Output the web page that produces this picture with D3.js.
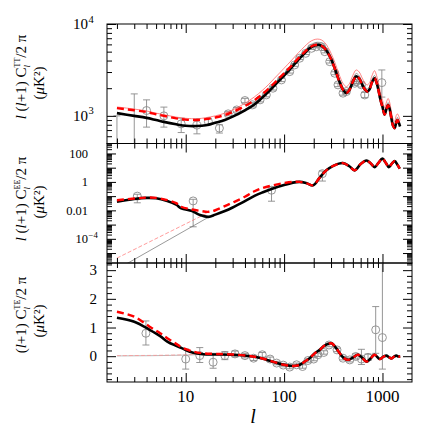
<!DOCTYPE html>
<html><head><meta charset="utf-8">
<script src="https://cdn.jsdelivr.net/npm/d3@7"></script>
<style>body{margin:0;background:#fff}svg{display:block}</style>
</head><body><svg id="c" width="436" height="436"></svg>
<script>
// ---------- DATA ----------
const lTT = [2,3,4,5,6,8,10,13,16,20,25,30,40,50,60,70,80,90,100,120,140,160,180,200,220,240,260,280,300,330,360,400,430,460,500,540,580,620,660,700,740,780,830,870,920,960,1000,1050,1100,1140,1180,1230,1280,1330,1380,1420,1470,1510];
const ttBlack = [1070,1000,950,900,860,810,780,775,790,840,900,980,1150,1330,1580,1850,2150,2450,2750,3400,4100,4750,5400,5800,5920,5800,5400,4800,4150,3200,2450,1900,1770,1900,2350,2700,2550,2200,1950,1840,1950,2300,2570,2300,1800,1450,1250,1030,1200,1310,1200,950,780,735,850,900,830,766];
const ttRed = [1213,1150,1100,1040,1000,940,910,900,920,960,1020,1100,1280,1480,1720,1990,2290,2600,2900,3550,4250,4900,5500,5850,5950,5800,5400,4800,4150,3200,2450,1900,1770,1900,2350,2700,2550,2200,1950,1840,1950,2300,2570,2300,1800,1450,1250,1030,1200,1310,1200,950,780,735,850,900,830,766];
const ttThinGray = [1070,1000,950,900,860,810,780,775,795,850,915,1000,1180,1380,1650,1950,2270,2600,2920,3620,4370,5060,5750,6180,6330,6200,5780,5140,4440,3420,2620,2030,1890,2030,2510,2890,2730,2350,2090,1970,2090,2460,2750,2460,1930,1550,1340,1100,1280,1400,1280,1020,835,785,910,960,890,820];
const ttThinRed = [1250,1185,1130,1070,1030,970,940,930,955,1000,1070,1160,1370,1610,1890,2210,2570,2930,3300,4060,4870,5630,6320,6730,6850,6700,6250,5550,4800,3750,2880,2230,2080,2230,2760,3160,3000,2600,2300,2170,2300,2720,3100,2750,2150,1730,1490,1230,1420,1550,1420,1120,920,870,1010,1050,980,890];
// TT measurements: [l, value, low, high]
const ttPoints = [[2,350,100,1000],[3,450,100,1734],[4,1143,754,1493],[6,1000,754,1245],[9,818,658,944],[13,792,637,927],[17,866,800,940],[22,734,650,800],[27,1052,1000,1110],[33,1160,1100,1230],[40,1468,1390,1550],[48,1318,1250,1390],[57,1493,1420,1570],[66,1690,1610,1770],[77,2000,1910,2090],[94,2461,2360,2560],[114,3032,2920,3140],[128,3584,3460,3710],[144,4240,4100,4380],[166,4800,4650,4950],[190,5440,5280,5600],[213,5660,5500,5820],[240,5660,5500,5820],[259,5000,4850,5150],[291,3890,3760,4020],[327,2911,2800,3020],[353,2174,2080,2270],[397,1766,1680,1850],[430,1840,1750,1930],[522,2266,2160,2370],[543,2360,2250,2470],[611,2174,2060,2290],[660,1690,1580,1800],[985,2300,1600,3160]];

const lEE = [2,3,4,5,6.5,8,9,11.6,14,17,20,25,30,40,50,60,77,100,123,144,170,197,230,269,320,397,460,522,600,687,760,832,910,998,1080,1160,1250,1330,1420,1496];
const eeBlack = [0.040,0.063,0.075,0.071,0.045,0.025,0.014,0.0089,0.0047,0.0035,0.005,0.009,0.016,0.045,0.105,0.18,0.34,0.6,0.89,1.0,0.8,0.58,2.0,6.5,14,21,12.6,6.5,18,32,20,11,22,43,22,11,20,29,16,8.5];
const eeRed = [0.051,0.068,0.079,0.076,0.052,0.032,0.018,0.0115,0.0093,0.0079,0.0102,0.02,0.035,0.09,0.22,0.37,0.58,0.83,1.0,1.0,0.8,0.58,2.0,6.5,14,21,12.6,6.5,18,32,20,11,22,43,22,11,20,29,16,8.5];
const lEEthin = [2,17.3];
const eeThinGray = [7.2e-7,3.5e-3];
const eeThinRed = [4.4e-6,7.5e-3];
const eePoints = [[3.22,0.1,0.034,0.135],[11.9,0.046,7e-4,0.06],[74.5,0.26,0.044,0.44],[245,3.8,1.15,5.8]];

const lTE = [2,3,4.3,5.5,6.5,8,9.1,11.9,15,20,30,48,60,77,100,123,144,160,182,205,230,260,303,335,368,400,447,500,563,620,687,760,832,938,1020,1096,1160,1230,1300,1383,1450,1514];
const teBlack = [1.34,1.2,0.92,0.7,0.51,0.36,0.28,0.12,0.07,0.06,0.05,-0.01,-0.08,-0.19,-0.3,-0.34,-0.3,-0.2,-0.07,0.1,0.22,0.38,0.45,0.3,0.1,-0.05,-0.13,-0.05,0.05,-0.05,-0.19,-0.07,0.05,-0.1,-0.02,0.02,-0.03,-0.08,-0.02,0.02,-0.01,-0.01];
const teRed = [1.55,1.38,1.03,0.8,0.63,0.43,0.31,0.16,0.1,0.08,0.06,-0.01,-0.08,-0.19,-0.3,-0.34,-0.3,-0.2,-0.07,0.1,0.22,0.38,0.45,0.3,0.1,-0.05,-0.13,-0.05,0.05,-0.05,-0.19,-0.07,0.05,-0.1,-0.02,0.02,-0.03,-0.08,-0.02,0.02,-0.01,-0.01];
const lTEthin = [2,5,10,15];
const teThinGray = [0.01,0.02,0.04,0.06];
const teThinRed = [0.02,0.03,0.05,0.07];
const tePoints = [[3.94,0.8,0.39,1.23],[10,-0.1,-0.45,0.25],[13.9,0.02,-0.22,0.3],[19,-0.21,-0.42,0.1],[25,0.02,-0.12,0.16],[31.7,0.08,-0.02,0.18],[40,0.02,-0.06,0.1],[49,-0.07,-0.15,0.01],[60,0.05,-0.03,0.13],[72,-0.1,-0.17,-0.03],[84,-0.24,-0.3,-0.18],[98,-0.31,-0.37,-0.25],[114,-0.38,-0.44,-0.32],[134,-0.3,-0.36,-0.24],[154,-0.36,-0.42,-0.3],[175,-0.15,-0.21,-0.09],[200,-0.1,-0.16,-0.04],[221,0.05,-0.01,0.11],[253,0.13,0.07,0.19],[286,0.39,0.33,0.45],[345,0.22,0.16,0.28],[397,-0.07,-0.13,-0.01],[465,-0.13,-0.2,-0.06],[535,-0.01,-0.1,0.08],[611,-0.1,-0.29,0.24],[713,-0.04,-0.15,0.07],[853,0.92,0.1,1.73],[998,0.65,-5,5]];

const xMajor = [10,100,1000];
const xMinor = [2,3,4,5,6,7,8,9,20,30,40,50,60,70,80,90,200,300,400,500,600,700,800,900];
const xLabels = ["10","100","1000"];
const ttMajor = [1000,10000];
const ttMinor = [500,600,700,800,900,2000,3000,4000,5000,6000,7000,8000,9000];
const ttLabels = [[1000,"10","3"],[10000,"10","4"]];
const eeMajor = [1e-5,1e-4,1e-3,1e-2,1e-1,1,10,100];
const eeLabels = [[100,"100",""],[1,"1",""],[0.01,"0.01",""],[1e-4,"10","−4"]];
const teMajor = [0,1,2,3];
const teMinor = [-0.8,-0.6,-0.4,-0.2,0.2,0.4,0.6,0.8,1.2,1.4,1.6,1.8,2.2,2.4,2.6,2.8,3.2];

// ---------- LAYOUT ----------
const svg = d3.select("#c");
const L = 107, R = 412;
const P = [{t:24,b:143.5},{t:143.5,b:263},{t:263,b:382}];
const x = d3.scaleLog().domain([Math.pow(10,0.2), Math.pow(10,3.3)]).range([L,R]);
const yTT = d3.scaleLog().domain([500,10000]).range([P[0].b,P[0].t]);
const yEE = d3.scaleLog().domain([Math.pow(10,-5.7),Math.pow(10,2.7)]).range([P[1].b,P[1].t]);
const yTE = d3.scaleLinear().domain([-0.9,3.25]).range([P[2].b,P[2].t]);
const SERIF = "'Liberation Serif','DejaVu Serif',serif";
const GRAY = "#8a8a8a";

const defs = svg.append("defs");
P.forEach((p,i)=>{
  defs.append("clipPath").attr("id","clip"+i).append("rect")
    .attr("x",L).attr("y",p.t).attr("width",R-L).attr("height",p.b-p.t);
});

function panel(i, y, majorY, minorY, lsArr){
  const p = P[i];
  const g = svg.append("g");
  const pg = g.append("g").attr("clip-path","url(#clip"+i+")");
  // data points
  lsArr.points.forEach(d=>{
    const cx = x(d[0]);
    const yl = y(Math.max(d[2], y.domain()[0]*0.5));
    const yh = y(d[3]);
    pg.append("line").attr("x1",cx).attr("x2",cx).attr("y1",yl).attr("y2",yh)
      .attr("stroke",GRAY).attr("stroke-width",0.9);
    [yl,yh].forEach(yy=>pg.append("line").attr("x1",cx-3.5).attr("x2",cx+3.5).attr("y1",yy).attr("y2",yy)
      .attr("stroke",GRAY).attr("stroke-width",0.9));
    pg.append("circle").attr("cx",cx).attr("cy",y(d[1])).attr("r",4)
      .attr("fill","none").attr("stroke",GRAY).attr("stroke-width",0.9);
  });
  const line = (ls, vs) => d3.line().curve(d3.curveCatmullRom.alpha(0.5))
      .x((d,k)=>x(ls[k])).y((d,k)=>y(vs[k]))(vs);
  lsArr.thin.forEach(t=>{
    pg.append("path").attr("d",line(t.l,t.v)).attr("fill","none")
      .attr("stroke",t.c).attr("stroke-width",t.w||0.7).attr("stroke-dasharray",t.dash||null);
  });
  pg.append("path").attr("d",line(lsArr.l,lsArr.black)).attr("fill","none")
    .attr("stroke","#000").attr("stroke-width",2.6);
  pg.append("path").attr("d",line(lsArr.l,lsArr.red)).attr("fill","none")
    .attr("stroke","#ff0000").attr("stroke-width",2.4).attr("stroke-dasharray","7,4");

  // axes
  const ax = (axisFn, scale, vals, size, tx, ty) => {
    g.append("g").attr("transform",`translate(${tx},${ty})`)
      .call(axisFn(scale).tickValues(vals).tickSize(size).tickFormat(""))
      .call(s=>{s.select(".domain").remove(); s.selectAll("line").attr("stroke","#000").attr("stroke-width",1);});
  };
  ax(d3.axisBottom, x, xMajor, -9, 0, p.b);
  ax(d3.axisBottom, x, xMinor, -5, 0, p.b);
  ax(d3.axisTop, x, xMajor, -9, 0, p.t);
  ax(d3.axisTop, x, xMinor, -5, 0, p.t);
  ax(d3.axisLeft, y, majorY, -9, L, 0);
  ax(d3.axisLeft, y, minorY, -5, L, 0);
  ax(d3.axisRight, y, majorY, -9, R, 0);
  ax(d3.axisRight, y, minorY, -5, R, 0);
  g.append("rect").attr("x",L).attr("y",p.t).attr("width",R-L).attr("height",p.b-p.t)
    .attr("fill","none").attr("stroke","#000").attr("stroke-width",1);
  return g;
}

// EE minor ticks: 2..9 in each decade
const eeMinor = [];
eeMajor.concat([1e-6]).forEach(d=>{ for(let k=2;k<=9;k++){ const v=d*k; if(v>yEE.domain()[0] && v<yEE.domain()[1]) eeMinor.push(v);} });

panel(0, yTT, ttMajor, ttMinor, {points:ttPoints, l:lTT, black:ttBlack, red:ttRed,
  thin:[{l:lTT,v:ttThinGray,c:"#6e6e6e"},{l:lTT,v:ttThinRed,c:"#ff5050"}]});
panel(1, yEE, eeMajor, eeMinor, {points:eePoints, l:lEE, black:eeBlack, red:eeRed,
  thin:[{l:lEEthin,v:eeThinGray,c:"#6e6e6e"},{l:lEEthin,v:eeThinRed,c:"#ff7070",dash:"4,2"}]});
panel(2, yTE, teMajor, teMinor, {points:tePoints, l:lTE, black:teBlack, red:teRed,
  thin:[{l:lTEthin,v:teThinGray,c:"#9a9a9a"},{l:lTEthin,v:teThinRed,c:"#ff9090",dash:"4,2"}]});

// tick labels
const lab = svg.append("g").attr("font-family",SERIF).attr("fill","#000");
xMajor.forEach((v,k)=>{
  lab.append("text").attr("x",x(v)).attr("y",402).attr("text-anchor","middle")
    .attr("font-size",17).text(xLabels[k]);
});
function ylab(y, v, base, sup, size, right){
  const t = lab.append("text").attr("y",y(v)+size*0.35).attr("font-size",size);
  if(sup){
    t.attr("x",right).attr("text-anchor","end").text(base);
    lab.append("text").attr("x",right+0.5).attr("y",y(v)+size*0.35-size*0.45).attr("font-size",size*0.7).text(sup);
  } else {
    t.attr("x",right).attr("text-anchor","end").text(base);
  }
}
ttLabels.forEach(d=>ylab(yTT,d[0],d[1],d[2],15,88));
eeLabels.forEach(d=>ylab(yEE,d[0],d[1],d[2],12.5,88));
teMajor.forEach(v=>ylab(yTE,v,String(v),"",15,97));

// axis titles
function title(cx, cy, parts, size){
  const t = svg.append("text").attr("transform",`translate(${cx},${cy}) rotate(-90)`)
    .attr("text-anchor","middle").attr("font-family",SERIF).attr("font-size",size);
  parts.forEach(p=>{
    const s = t.append("tspan").text(p.t);
    if(p.i) s.attr("font-style","italic");
    if(p.fs) s.attr("font-size",p.fs);
    if(p.dx!=null) s.attr("dx",p.dx);
    if(p.dy!=null) s.attr("dy",p.dy);
  });
}
function cTitle(cx, cy, lead, sup){
  const parts = lead.concat([
    {t:"C"},
    {t:"l",i:true,fs:9,dy:4},
    {t:sup,fs:8,dx:-2.5,dy:-10},
    {t:"/2 π",dy:6}
  ]);
  title(cx, cy, parts, 15);
}
const ll = [{t:"l",i:true},{t:" ("},{t:"l",i:true},{t:"+1) "}];
cTitle(26, 77, ll, "TT");
title(44, 83, [{t:"("},{t:"μ",i:true},{t:"K²)"}], 15);
cTitle(26, 199, ll, "EE");
title(44, 202, [{t:"("},{t:"μ",i:true},{t:"K²)"}], 15);
cTitle(26, 315, [{t:"("},{t:"l",i:true},{t:"+1) "}], "TE");
title(44, 321, [{t:"("},{t:"μ",i:true},{t:"K²)"}], 15);
// x title
svg.append("text").attr("x",253).attr("y",423).attr("text-anchor","middle")
  .attr("font-family",SERIF).attr("font-style","italic").attr("font-size",20).text("l");
</script></body></html>
